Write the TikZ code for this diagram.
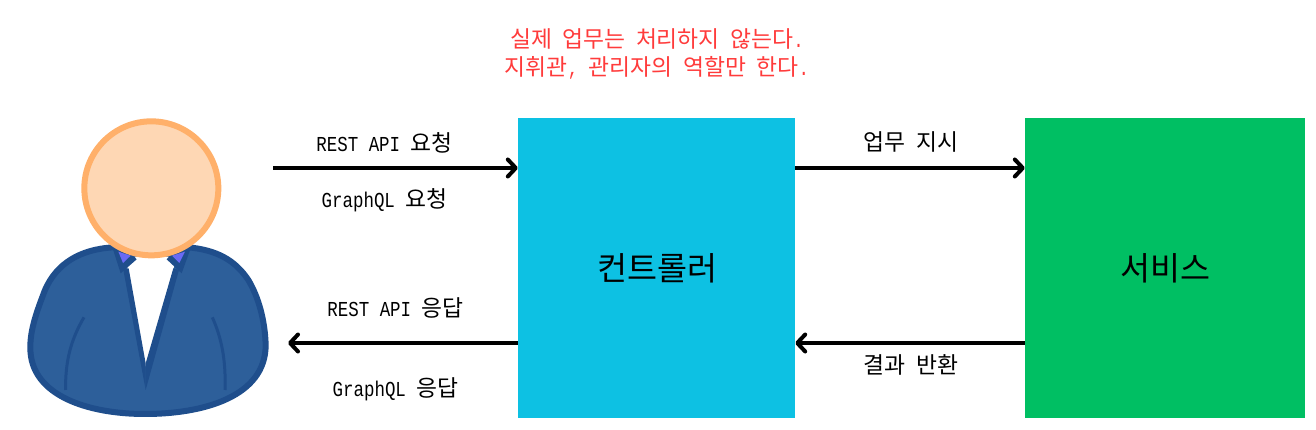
\documentclass[tikz,border=0pt]{standalone}
\usepackage{fontspec}
\usetikzlibrary{arrows.meta}
\setmainfont[FakeStretch=0.82]{Liberation Mono}
\newfontfamily\krfont{Noto Sans CJK KR}
\newcommand{\K}[1]{{\krfont\fontsize{22.8pt}{26pt}\selectfont #1}}
\newcommand{\BK}[1]{{\krfont\fontsize{32.6pt}{36pt}\selectfont #1}}
\definecolor{ctrlblue}{HTML}{0DC1E3}
\definecolor{svcgreen}{HTML}{00BF63}
\definecolor{redtext}{HTML}{FF3B3B}
\definecolor{suit}{HTML}{2D5F9A}
\definecolor{suitdark}{HTML}{1F4E8C}
\definecolor{collar}{HTML}{6A6AF5}
\definecolor{skin}{HTML}{FED7B4}
\definecolor{skindark}{HTML}{FFB06A}
\tikzset{
  x=1pt,y=-1pt,
  lbl/.style={font=\fontsize{21.3pt}{24pt}\selectfont,inner sep=0pt,text=black},
  note/.style={lbl,text=redtext},
  bigbox/.style={inner sep=0pt,minimum height=300pt,font=\fontsize{30pt}{34pt}\selectfont},
  link/.style={line width=4pt,-{Straight Barb[length=8pt,width=17pt,line width=4pt,round]}},
  suitline/.style={draw=suitdark,line width=6pt,line join=round},
}
\begin{document}
\begin{tikzpicture}
\useasboundingbox (0,0) rectangle (1316,430);
\fill[white] (0,0) rectangle (1316,430);
% person
\begin{scope}[x=0.33333pt,y=-0.33333pt,shift={(0,300)}]
  \path[suitline,fill=suit] (340,442) .. controls (240,448) and (170,490) .. (135,570)
     .. controls (110,635) and (90,690) .. (91,745)
     .. controls (92,890) and (270,942) .. (435,942)
     .. controls (610,942) and (797,890) .. (797,735)
     .. controls (795,660) and (775,590) .. (745,540)
     .. controls (705,480) and (650,450) .. (565,442) -- cycle;
  \fill[white] (380,490) -- (405,470) -- (505,470) -- (525,490) -- (437,800) -- cycle;
  \fill[suitdark] (370,510) -- (386,505) -- (437,790) -- (437,870) -- cycle;
  \fill[suitdark] (520,505) -- (537,510) -- (437,870) -- (437,790) -- cycle;
  \fill[suitdark] (338,445) -- (362,520) -- (410,478) -- (390,455) -- cycle;
  \fill[suitdark] (572,445) -- (545,520) -- (500,478) -- (520,455) -- cycle;
  \fill[collar] (355,455) -- (369,489) -- (392,467) -- cycle;
  \fill[collar] (555,455) -- (538,489) -- (516,467) -- cycle;
  \draw[suitdark,line width=3pt] (252,652) .. controls (215,715) and (195,780) .. (197,870);
  \draw[suitdark,line width=3pt] (637,652) .. controls (665,715) and (678,780) .. (675,870);
  \draw[draw=skindark,fill=skin,line width=6pt] (454,265) circle[radius=201];
\end{scope}
% boxes
\node[bigbox,fill=ctrlblue,minimum width=277pt] (ctrl) at (656.5,268) {\hspace{2pt}\BK{컨트롤러}};
\node[bigbox,fill=svcgreen,minimum width=280pt] (svc) at (1165,268) {\BK{서비스}};
% free ends
\coordinate (userout) at (273,168);
\coordinate (userin) at (288,343);
\coordinate (upper) at (656,168);
\coordinate (lower) at (656,343);
% connectors
\draw[link] (userout) -- (ctrl.west |- userout);
\draw[link] (ctrl.west |- userin) -- (userin);
\draw[link] (ctrl.east |- upper) -- (svc.west |- upper);
\draw[link] (svc.west |- lower) -- (ctrl.east |- lower);
% labels
\node[lbl] (l1) at (384.5,143) {REST API \K{요청}};
\node[lbl] (l2) at (384.5,200) {GraphQL \K{요청}};
\node[lbl] (l3) at (395.5,308) {REST API \K{응답}};
\node[lbl] (l4) at (395.5,389) {GraphQL \K{응답}};
\node[lbl] (l5) at (911,142) {\K{업무} \K{지시}};
\node[lbl] (l6) at (911,365) {\K{결과} \K{반환}};
\node[note] (n1) at (657,39) {\K{실제} \K{업무는} \K{처리하지} \K{않는다}.};
\node[note] (n2) at (657,68) {\K{지휘관}, \K{관리자의} \K{역할만} \K{한다}.};
\end{tikzpicture}
\end{document}
